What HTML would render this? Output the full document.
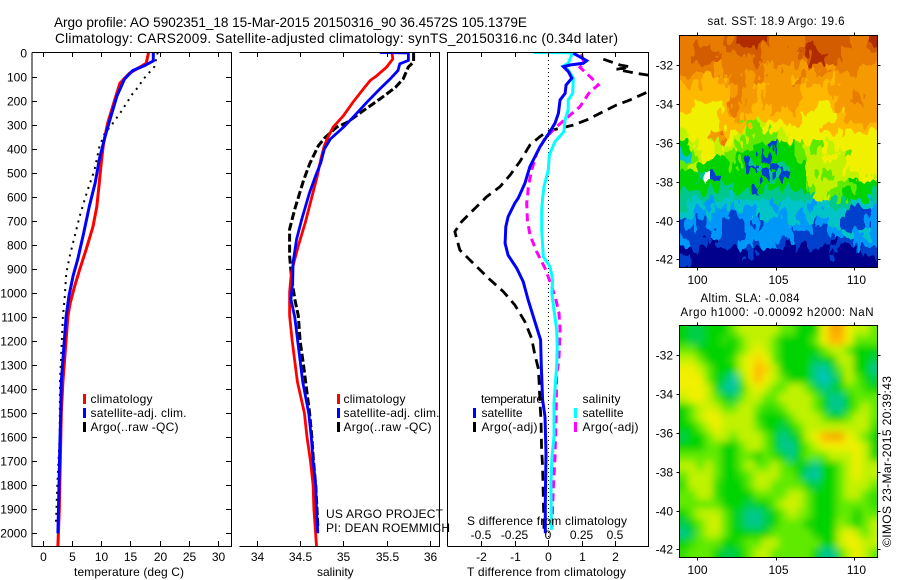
<!DOCTYPE html>
<html>
<head>
<meta charset="utf-8">
<title>Argo profile</title>
<style>
html,body{margin:0;padding:0;background:#fff;}
svg{display:block;}
text{font-family:"Liberation Sans",sans-serif;fill:#000;font-size:12px;}
.tt{font-size:13.6px;}
.sm{font-size:11.5px;}
</style>
</head>
<body>
<svg id="fig" xmlns="http://www.w3.org/2000/svg" width="900" height="580" viewBox="0 0 900 580">
<defs>
<clipPath id="c1"><rect x="32" y="52" width="199" height="494"/></clipPath>
<clipPath id="c2"><rect x="239.500" y="52" width="200" height="494"/></clipPath>
<clipPath id="c3"><rect x="447.500" y="52" width="201" height="494"/></clipPath>
<clipPath id="cm1"><rect x="679.500" y="35.500" width="198" height="232"/></clipPath>
<clipPath id="cm2"><rect x="679.500" y="325.500" width="198" height="232"/></clipPath>
<filter id="soft" filterUnits="userSpaceOnUse" x="650" y="295" width="260" height="295"><feGaussianBlur stdDeviation="3.6"/></filter>
<filter id="rough" filterUnits="userSpaceOnUse" x="650" y="5" width="260" height="295" color-interpolation-filters="sRGB">
<feTurbulence type="fractalNoise" baseFrequency="0.13 0.06" numOctaves="2" seed="4" result="n"/>
<feDisplacementMap in="SourceGraphic" in2="n" scale="24" xChannelSelector="R" yChannelSelector="G"/>
</filter>
</defs>
<rect width="900" height="580" fill="#fff"/>
<text class="tt" x="54" y="27" textLength="473">Argo profile: AO 5902351_18 15-Mar-2015 20150316_90 36.4572S 105.1379E</text>
<text class="tt" x="55" y="43" textLength="563">Climatology: CARS2009. Satellite-adjusted climatology: synTS_20150316.nc (0.34d later)</text>

<g id="p1"></g>
<g id="p2"></g>
<g id="p3"></g>
<g id="m1"></g>
<g id="m2"></g>

<g>
<line x1="84.500" x2="84.500" y1="394" y2="404" stroke="#f00" stroke-width="3"/>
<line x1="84.500" x2="84.500" y1="408" y2="418" stroke="#00f" stroke-width="3"/>
<line x1="84.500" x2="84.500" y1="422" y2="432" stroke="#000" stroke-width="3"/>
<text x="90.500" y="403" textLength="62">climatology</text>
<text x="90.500" y="417" textLength="96">satellite-adj. clim.</text>
<text x="90.500" y="431" textLength="88">Argo(..raw -QC)</text>
</g>
<g>
<line x1="338.500" x2="338.500" y1="394" y2="404" stroke="#f00" stroke-width="3"/>
<line x1="338.500" x2="338.500" y1="408" y2="418" stroke="#00f" stroke-width="3"/>
<line x1="338.500" x2="338.500" y1="422" y2="432" stroke="#000" stroke-width="3"/>
<text x="343.500" y="403" textLength="62">climatology</text>
<text x="343.500" y="417" textLength="96">satellite-adj. clim.</text>
<text x="343.500" y="431" textLength="88">Argo(..raw -QC)</text>
</g>
<g>
<text x="481" y="403" textLength="62">temperature</text>
<line x1="474.500" x2="474.500" y1="408" y2="418" stroke="#00f" stroke-width="3"/>
<text x="481.500" y="417" textLength="41">satellite</text>
<line x1="474.500" x2="474.500" y1="422" y2="432" stroke="#000" stroke-width="3"/>
<text x="481.500" y="431" textLength="56">Argo(-adj)</text>
<text x="582.500" y="403" textLength="38">salinity</text>
<line x1="575.500" x2="575.500" y1="408" y2="418" stroke="#0ff" stroke-width="3"/>
<text x="582.500" y="417" textLength="41">satellite</text>
<line x1="575.500" x2="575.500" y1="422" y2="432" stroke="#f0f" stroke-width="3"/>
<text x="582.500" y="431" textLength="56">Argo(-adj)</text>
</g>
<text x="326" y="518" textLength="117">US ARGO PROJECT</text>
<text x="326" y="532" textLength="124">PI: DEAN ROEMMICH</text>
<text x="74" y="576" textLength="110">temperature (deg C)</text>
<text x="317" y="576">salinity</text>
<text x="467" y="576" textLength="159">T difference from climatology</text>
<text x="467" y="525" textLength="160">S difference from climatology</text>
<text class="sm" x="707.500" y="25" textLength="137">sat. SST: 18.9 Argo: 19.6</text>
<text class="sm" x="700.500" y="302" textLength="99">Altim. SLA: -0.084</text>
<text class="sm" x="680.500" y="316" textLength="193">Argo h1000: -0.00092 h2000: NaN</text>
<text transform="translate(891,547) rotate(-90)" textLength="171">©IMOS 23-Mar-2015 20:39:43</text>
</svg>

<script>
const depthTicks = [0,100,200,300,400,500,600,700,800,900,1000,1100,1200,1300,1400,1500,1600,1700,1800,1900,2000];
const tempTicks = [0,5,10,15,20,25,30];
const salTicks = [34,34.5,35,35.5,36];
const tDiffTicks = [-2,-1,0,1,2];
const sDiffTicks = [-0.5,-0.25,0,0.25,0.5];
const lonTicks = [100,105,110];
const latTicks = [32,34,36,38,40,42];

const climTempDepth = [0,45,87,128,197,295,378,461,558,641,724,821,904,973,1042,1098,1370,1500,1700,1900,2053];
const climTemp = [18.1,17.7,14.8,13.2,12.3,11.1,10.4,10,9.6,9.25,8.6,7.4,6.3,5.45,4.7,4.3,3.46,3.18,3,2.84,2.6];
const satTempDepth = [0,35,55,75,110,180,263,346,443,540,637,762,859,929,1012,1098,1370,1500,1660,1800,2000];
const satTemp = [18.9,18.9,17.4,15.4,14,12.7,11.7,10.7,9.7,9,8,6.9,6,5.2,4.5,4,3.18,3.07,2.9,2.78,2.6];
const argoTempDepth = [0,59,114,142,170,246,294,337,392,489,572,614,683,766,849,918,1025,1098,1370,1600,1800,1970];
const argoTemp = [19.65,19.1,17.1,16.4,15.4,13.4,12,10.6,9.7,8.86,7.7,7.15,6.3,5.45,4.6,4.04,3.75,3.46,2.95,2.9,2.5,2.25];

const climSalDepth = [2,27,60,98,116,152,207,263,311,346,388,443,512,610,707,804,859,915,998,1095,1200,1370,1500,1600,1700,1800,1900,2053];
const climSal = [35.56,35.57,35.5,35.38,35.31,35.23,35.11,35,34.88,34.83,34.78,34.74,34.7,34.63,34.56,34.48,34.44,34.4,34.38,34.38,34.41,34.47,34.55,34.58,34.62,34.65,34.66,34.69];
const satSalDepth = [0,2,33,47,75,110,152,207,270,311,360,402,457,512,582,693,776,873,956,1026,1102,1370,1500,1600,1700,1800,1900,2000];
const satSal = [35.42,35.75,35.75,35.65,35.63,35.54,35.42,35.27,35.11,35,34.85,34.78,34.74,34.68,34.61,34.52,34.46,34.42,34.415,34.395,34.44,34.53,34.6,34.63,34.65,34.68,34.69,34.705];
const argoSalDepth = [2,40,60,110,145,194,242,291,311,353,388,464,533,651,735,846,929,1026,1095,1200,1300,1500,1600,1700,1800,1900,1970];
const argoSal = [35.81,35.81,35.75,35.69,35.6,35.42,35.23,35.04,34.92,34.79,34.71,34.61,34.54,34.44,34.38,34.38,34.4,34.44,34.48,34.5,34.54,34.61,34.635,34.655,34.68,34.695,34.705];

const satDTDepth = [3,34,45,52,59,80,107,135,170,197,253,294,329,392,475,544,606,627,683,725,794,843,898,953,1030,1120,1196,1307,1335,1445,1515,1667,1875,2000];
const satDT = [0.755,1.155,1.05,0.66,0.46,0.61,0.71,0.54,0.51,0.36,0.31,0.21,0.06,-0.24,-0.54,-0.69,-0.89,-0.99,-1.19,-1.26,-1.28,-1.19,-0.93,-0.74,-0.59,-0.39,-0.22,-0.2,-0.19,-0.16,-0.09,-0.06,-0.08,-0.08];
const argoDTDepth = [28,52,60,70,80,87,94,125,163,197,218,246,278,302,315,329,350,385,454,510,558,600,614,655,704,745,772,822,877,939,995,1050,1120,1189,1258,1314,1362,1458,1529,1654,1723,1848,1986];
const argoDT = [1.65,2.15,2.45,2.05,2.4,2.65,2.99,3.73,2.99,2.45,2.05,1.65,1.2,0.755,0.36,-0.04,-0.24,-0.54,-0.84,-1.13,-1.43,-1.83,-1.93,-2.23,-2.58,-2.78,-2.73,-2.63,-2.23,-1.78,-1.33,-0.99,-0.69,-0.49,-0.39,-0.29,-0.27,-0.24,-0.21,-0.19,-0.16,-0.14,-0.12];
const satDSDepth = [0,1,10,45,56,73,107,170,197,239,281,329,371,426,489,558,606,655,738,849,891,946,1002,1071,1154,1224,1307,1362,1458,1598,1681,1792,1986];
const satDS = [-0.11,0.19,0.177,0.151,0.114,0.151,0.189,0.184,0.151,0.151,0.127,0.119,0.052,0.01,0.002,-0.03,-0.04,-0.047,-0.047,-0.035,0.015,0.035,0.028,0.045,0.065,0.069,0.065,0.057,0.045,0.045,0.03,0.022,0.025];
const argoDSDepth = [6,45,62,107,135,163,225,267,315,357,419,489,558,606,626,697,759,829,898,953,1022,1085,1154,1265,1307,1333,1529,1681,1806,1986];
const argoDS = [0.251,0.269,0.239,0.326,0.375,0.313,0.239,0.151,0.052,-0.022,-0.084,-0.122,-0.147,-0.154,-0.159,-0.154,-0.134,-0.084,-0.022,0.015,0.057,0.082,0.09,0.082,0.075,0.065,0.06,0.052,0.04,0.028];

const sstGrid = [
[11,11,11,11,11,11,12,13,13,13,12,11,11,11,11,12,12,12,12,12,12,11,11,13],
[11,11,12,12,11,11,12,12,12,12,11,11,11,11,12,13,13,12,12,12,11,11,11,12],
[11,12,12,12,12,11,11,11,11,12,11,11,11,11,11,12,13,13,12,11,11,11,11,11],
[11,11,11,11,10,11,11,11,11,11,10,11,10,10,10,10,11,11,10,11,11,11,10,10],
[10,10,10,9,9,10,11,11,10,11,10,10,10,9,11,10,10,10,9,10,10,10,10,10],
[9,9,9,9,9,9,10,11,10,9,9,10,10,10,10,9,9,9,10,10,10,10,10,10],
[9,9,9,9,9,9,11,11,10,9,10,10,10,10,10,9,9,9,9,10,10,11,10,10],
[9,9,8,8,8,9,11,10,10,9,9,10,10,10,9,9,9,8,9,10,10,10,10,10],
[8,8,8,8,8,9,10,10,9,9,9,9,9,9,9,8,8,8,8,9,10,10,10,10],
[7,8,8,8,8,9,9,9,6,7,8,8,8,8,8,8,8,9,9,9,9,9,9,9],
[7,8,8,8,10,11,8,7,6,6,6,6,7,8,8,8,8,8,8,8,8,8,8,8],
[5,7,8,8,7,8,7,6,6,5,5,1,5,5,6,7,6,8,7,8,8,8,8,8],
[3,6,7,8,7,7,6,5,5,5,1,5,5,5,6,7,7,7,8,7,6,8,8,8],
[6,7,5,5,5,5,6,5,1,4,5,1,4,5,5,7,7,7,7,7,8,8,8,8],
[5,5,4,null,1,5,5,5,5,5,1,4,1,5,5,7,7,6,7,7,7,7,8,7],
[5,5,5,5,5,4,5,5,5,1,5,5,5,5,5,6,7,7,7,6,6,5,5,5],
[4,4,4,4,4,4,3,4,4,4,4,4,4,4,4,4,7,7,6,6,5,5,5,4],
[4,3,3,2,3,3,2,3,3,3,3,2,3,3,3,3,2,3,4,4,4,3,3,2],
[3,3,2,3,2,2,1,2,2,3,3,3,2,3,2,3,3,3,3,3,1,1,1,2],
[1,2,1,2,2,1,1,1,2,1,2,2,2,3,2,2,1,2,3,3,1,1,1,2],
[1,1,1,1,2,1,1,1,2,2,2,2,2,2,1,1,1,1,2,2,3,2,3,2],
[2,1,1,0,0,1,1,2,2,1,2,2,1,0,1,1,1,1,0,1,1,2,2,2],
[0,0,0,0,0,0,0,0,1,0,0,0,0,0,0,0,0,0,1,0,0,0,1,1],
[1,0,0,0,0,0,0,0,0,0,0,0,0,0,0,0,0,0,0,0,0,0,0,0]
];
const slaGrid = [
[5,4.5,4.5,5,5,5,6,7,7,7,7,7,6,6,5,5,5,8,9.5,9.5,8,7,7,6],
[5,4.5,4.5,5,5,5.5,5,6,7,7,7,6,5,5,5,5,6,8,9,9,8,6,6,6],
[6,6,5,5,5,5,5,6,7,8,7,6,5,5,5,5,5,6,7,7,6,5,5,5],
[7,7,6,5,5,5,5.5,7,8,8.5,8,6,5,5,5,5,4.5,5,5,7,7,5,5,4.5],
[8,8,7,6,5,5,5,7,8,9,8.5,7,5,5,5,5,4,3.5,4.5,6,7,5,5,4],
[8,8,8,6,5,4.5,3.5,6,8,9,8,7,6,5,5,5,4,3,4,5,7,6,5,4.5],
[8,8,8,7,5,4,3.5,5,7,8,7,6,6,7,7,6,5,4,4.5,5,6,6,5.5,5],
[7,8,8,7,6,5,4.5,6,7,7,6,6,7,7,7,7,6,5,4,4,5,6,6,6],
[5,6,7,7.5,7,6,6,7,7,6,5.5,5.5,6,7,7,7,6,5,4,4,5,6,7,6],
[5,6,7,8,8,7,7,7,7,5.5,5,5,5,6,7,7,7,6,5,5,6,7,7,6],
[5,5,6,7,8,7,7,7,7,6,5,5,4.5,5,6,7,7,7,7,7,7,7,7,5.5],
[4.5,5,5,6,7,7,6,7,7,7,6,5,4,4.5,5,7,8,9,9.5,9.5,8,7,6,5],
[5,5,5,6,6,5,5,6,7,7,6,5,4,3.8,5,6,7,8,8,8,8,8,7,5],
[6,6,6,6,6,5,5,6,6,5,6,5.5,5,4,5,6,6,6,7,7,7,8,7,5],
[7,7,6,7,6,5,5,6,7,6,6,7,6,5.5,5,4.5,4,5,5,6,7,8,7,7],
[6,7,7,7,6,5,5,5.5,6,7,7,7,6,6,5,4,3.5,5,5,6,7,8,7,7],
[5.5,7,7,7,5.5,5,5,5,6,7,7,6,6,6,6,5,4.5,5,5,6,7,7,7,6],
[6,6,7,7,5.5,5,5,5,5,6,6,6,6,7,7,6,5,5,5,6,7,7,6,5.5],
[6,6,6,6,6,5,5,5,4.5,5,5,6,7,7.5,7,6,5,5,5,6,6,6,6,5.5],
[5,6,7,7,7,6,5,4.5,4,4,4.5,5,6,7,6.5,6,5,5,5,6,6,5,6,6],
[4.5,5,6,7,7.5,6,5,4.5,4,4,4.5,5,6,6,6,5,5,5,5,6.5,6,5,6,7],
[4,4.5,6,7,7,6,5,5,5,5,5,6,6,6,6,6,5,5,5,7,8,7,6,7],
[5,5.5,6,6,6,5,5,5.5,6,6,7,7,6,6,6,6,6,5,5,7,8,8,7,7],
[5.5,6,6,6,5,4.5,4.5,5,6,7,7,6,6,6,6,6,5,4,4,5.5,7,8,7,6]
];
const paletteStops = ["#00008c","#0040cc","#0098f8","#00c4c8","#00c88c","#00d400","#60ea00","#c0f200","#f0f000","#ffb800","#f59a00","#e87c00","#d45c00","#b02c00"];

const SVGNS = "http://www.w3.org/2000/svg";
function mk(tag, parent, attrs) {
  const el = document.createElementNS(SVGNS, tag);
  for (const k in attrs) el.setAttribute(k, attrs[k]);
  parent.appendChild(el);
  return el;
}
const yDepth = d => 52.5 + 0.2404 * d;
const xTemp = v => 42.7 + 5.85 * v;
const xSal = v => 256.7 + 86.7 * (v - 34);
const xDT = v => 548 + 33.5 * v;
const xDS = v => 548 + 134 * v;
const xLon = v => 697.3 + 15.64 * (v - 100);
const y1Lat = v => 65.3 + 19.4 * (v - 32);
const y2Lat = v => 355.3 + 19.4 * (v - 32);

function pathD(xs, ys, fx) {
  return xs.map((v, i) => (i ? "L" : "M") + fx(v).toFixed(1) + " " + yDepth(ys[i]).toFixed(1)).join("");
}
function series(g, clip, xs, ys, fx, color, width, dash, name) {
  const el = mk("path", g, {d: pathD(xs, ys, fx), fill: "none", stroke: color, "stroke-width": width, "clip-path": "url(#" + clip + ")"});
  
  
  if (dash) el.setAttribute("stroke-dasharray", dash);
  return el;
}
function tickLine(g, x1, y1, x2, y2) {
  const el = mk("line", g, {x1, y1, x2, y2, stroke: "#000", "stroke-width": 1});
  
  
}
function label(g, x, y, txt, anchor) {
  const el = mk("text", g, {x, y, "text-anchor": anchor});
  el.textContent = txt;
  
  
}

const p1 = document.getElementById("p1");
series(p1, "c1", argoTemp, argoTempDepth, xTemp, "#000", 2, "2 5", "argo-temperature-line");
series(p1, "c1", climTemp, climTempDepth, xTemp, "#f00", 3, null, "climatology-temperature-line");
series(p1, "c1", satTemp, satTempDepth, xTemp, "#00f", 3, null, "satellite-temperature-line");
const p2 = document.getElementById("p2");
series(p2, "c2", argoSal, argoSalDepth, xSal, "#000", 3, "8 3", "argo-salinity-line");
series(p2, "c2", climSal, climSalDepth, xSal, "#f00", 2.8, null, "climatology-salinity-line");
series(p2, "c2", satSal, satSalDepth, xSal, "#00f", 2.8, null, "satellite-salinity-line");
const p3 = document.getElementById("p3");
const zero = mk("line", p3, {x1: 548.5, x2: 548.5, y1: 52, y2: 546, stroke: "#000", "stroke-width": 1, "stroke-dasharray": "1 3"});


series(p3, "c3", argoDT, argoDTDepth, xDT, "#000", 2.8, "10 6", "argo-temperature-difference-line");
series(p3, "c3", argoDS, argoDSDepth, xDS, "#f0f", 3, "8 5", "argo-salinity-difference-line");
series(p3, "c3", satDS, satDSDepth, xDS, "#0ff", 3, null, "satellite-salinity-difference-line");
series(p3, "c3", satDT, satDTDepth, xDT, "#00f", 3, null, "satellite-temperature-difference-line");

function frame(g, d) {
  const el = mk("path", g, {d, fill: "none", stroke: "#000", "stroke-width": 1});
  
  
}
frame(p1, "M32 52.500H231.500V546.500H32V52.500");
frame(p2, "M239.500 52.500H439.500V546.500H239.500");
frame(p3, "M447.500 546.500V52.500H648.500V546.500H447.500");

depthTicks.forEach(d => {
  const y = Math.round(yDepth(d)) + 0.5;
  if (d > 0) tickLine(p1, 32, y, 37, y);
  if (d > 0) tickLine(p1, 226, y, 231, y);
  label(p1, 27, y + 4, String(d), "end");
});
tempTicks.forEach(v => {
  const x = Math.round(xTemp(v)) + 0.5;
  tickLine(p1, x, 52, x, 57);
  tickLine(p1, x, 546, x, 541);
  label(p1, x, 561, String(v), "middle");
});
salTicks.forEach(v => {
  const x = Math.round(xSal(v)) + 0.5;
  tickLine(p2, x, 52, x, 57);
  tickLine(p2, x, 546, x, 541);
  label(p2, x, 561, String(v), "middle");
});
tDiffTicks.forEach(v => {
  const x = Math.round(xDT(v)) + 0.5;
  tickLine(p3, x, 52, x, 57);
  tickLine(p3, x, 546, x, 541);
  label(p3, x, 561, String(v), "middle");
});
sDiffTicks.forEach(v => {
  label(p3, xDS(v), 539, String(v), "middle");
});

function colorFor(v) {
  const i = Math.max(0, Math.min(paletteStops.length - 1, v));
  const lo = Math.floor(i), hi = Math.min(paletteStops.length - 1, lo + 1), t = i - lo;
  const parse = h => [1, 3, 5].map(p => parseInt(h.substr(p, 2), 16));
  const a = parse(paletteStops[lo]), b = parse(paletteStops[hi]);
  return "rgb(" + a.map((c, k) => Math.round(c + (b[k] - c) * t)).join(",") + ")";
}
function heatmap(parent, grid, top, name) {
  const rows = grid.length, cols = grid[0].length;
  const cw = 198 / cols, ch = 232 / rows;
  grid.forEach((row, r) => row.forEach((v, c) => {
    let x = 679.5 + c * cw, y = top + r * ch, w = cw + 0.6, h = ch + 0.6;
    if (c === 0) { x -= 15; w += 15; }
    if (c === cols - 1) w += 15;
    if (r === 0) { y -= 15; h += 15; }
    if (r === rows - 1) h += 15;
    const el = mk("rect", parent, {x: x.toFixed(2), y: y.toFixed(2), width: w.toFixed(2), height: h.toFixed(2), fill: v === null ? "#fff" : colorFor(v), "shape-rendering": "crispEdges"});
    
    
  }));
}
function mapAxes(g, top, yLat, labelY) {
  const bottom = top + 232;
  lonTicks.forEach(v => {
    const x = Math.round(xLon(v)) + 0.5;
    tickLine(g, x, top - 3, x, top);
    tickLine(g, x, bottom, x, bottom + 3);
    label(g, x + (v === 100 ? 0 : 2), labelY, String(v), "middle");
  });
  latTicks.forEach(v => {
    const y = Math.round(yLat(v)) + 0.5;
    tickLine(g, 676.5, y, 679.5, y);
    tickLine(g, 877.5, y, 880.5, y);
    label(g, 673, y + 4, "-" + v, "end");
  });
  const el = mk("rect", g, {x: 679.5, y: top, width: 198, height: 232, fill: "none", stroke: "#000", "stroke-width": 1});
  
  
}
const m1 = document.getElementById("m1");
const clipA = mk("g", m1, {"clip-path": "url(#cm1)"});


const roughG = mk("g", clipA, {filter: "url(#rough)"});


heatmap(roughG, sstGrid, 35.5, "sst-cell");
mapAxes(m1, 35.5, y1Lat, 284);
const m2 = document.getElementById("m2");
const clipG = mk("g", m2, {"clip-path": "url(#cm2)"});


const blurG = mk("g", clipG, {filter: "url(#soft)"});


heatmap(blurG, slaGrid, 325.5, "sla-cell");
mapAxes(m2, 325.5, y2Lat, 574);
</script>
</body>
</html>
